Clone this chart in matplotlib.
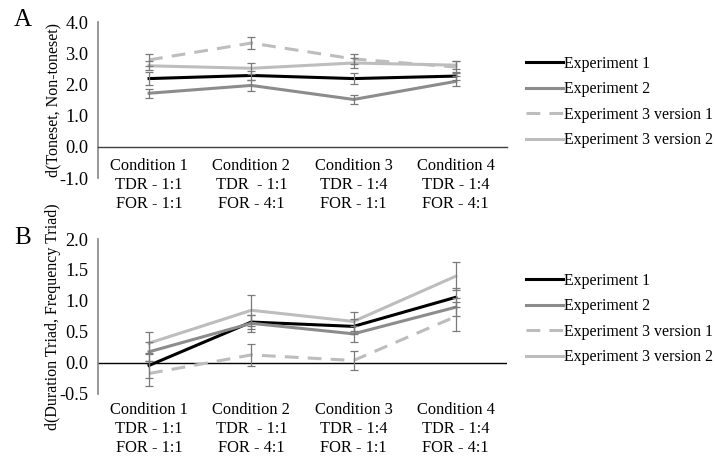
import matplotlib
matplotlib.use("Agg")
import matplotlib.pyplot as plt
import numpy as np

plt.rcParams['font.family'] = ['Liberation Serif', 'DejaVu Serif']
plt.rcParams['axes.unicode_minus'] = False

conditions = ["Condition 1\nTDR - 1:1\nFOR - 1:1",
              "Condition 2\nTDR  - 1:1\nFOR - 4:1",
              "Condition 3\nTDR - 1:4\nFOR - 1:1",
              "Condition 4\nTDR - 1:4\nFOR - 4:1"]
series_names = ["Experiment 1", "Experiment 2",
                "Experiment 3 version 1", "Experiment 3 version 2"]

# panel A: d(Toneset, Non-toneset)
exp1_a = [2.19, 2.29, 2.19, 2.27]
exp2_a = [1.72, 1.97, 1.52, 2.10]
exp3v1_a = [2.79, 3.33, 2.82, 2.56]
exp3v2_a = [2.60, 2.52, 2.69, 2.62]
err1_a = [0.20, 0.15, 0.17, 0.12]
err2_a = [0.15, 0.17, 0.15, 0.16]
err3v1_a = [0.20, 0.20, 0.15, 0.18]
err3v2_a = [0.15, 0.17, 0.15, 0.12]

# panel B: d(Duration Triad, Frequency Triad)
exp1_b = [-0.04, 0.66, 0.59, 1.06]
exp2_b = [0.18, 0.64, 0.47, 0.90]
exp3v1_b = [-0.17, 0.13, 0.04, 0.75]
exp3v2_b = [0.32, 0.85, 0.67, 1.40]
err1_b = [0.20, 0.12, 0.12, 0.15]
err2_b = [0.15, 0.14, 0.13, 0.15]
err3v1_b = [0.20, 0.18, 0.16, 0.23]
err3v2_b = [0.18, 0.25, 0.16, 0.23]

styles = [dict(color='black', ls='-'),
          dict(color='#8c8c8c', ls='-'),
          dict(color='#bdbdbd', ls=(0, (4.5, 3))),
          dict(color='#bdbdbd', ls='-')]

fs_tick = 13.2
fs_cat = 11.8
fs_leg = 11.4
fs_lab = 11.5
fig = plt.figure(figsize=(7.15, 4.57), dpi=100)
axA = fig.add_axes([0.137, 0.6105, 0.572, 0.341])
axB = fig.add_axes([0.137, 0.138, 0.572, 0.339])


def draw(ax, vals, errs, ylim, yticks, ylabel, legend_y, low_labels):
    x = np.arange(len(conditions))
    # spine position first: it resets the ticks
    for s in ['top', 'right']:
        ax.spines[s].set_visible(False)
    ax.spines['left'].set_color('#868686')
    ax.spines['left'].set_linewidth(1.2)
    if low_labels:
        ax.spines['bottom'].set_visible(False)
        ax.axhline(0, color='black', lw=1.0, zorder=1)
    else:
        ax.spines['bottom'].set_position(('data', 0))
        ax.spines['bottom'].set_color('#404040')
        ax.spines['bottom'].set_linewidth(1.0)
    for v, e, st, name in zip(vals, errs, styles, series_names):
        ax.errorbar(x, v, yerr=e, fmt='none', ecolor='#7a7a7a',
                    elinewidth=0.9, capsize=2.6, capthick=0.9, zorder=3)
        ax.plot(x, v, color=st['color'], ls=st['ls'], lw=2.2,
                label=name, zorder=2)
    ax.set_xlim(-0.5, 3.5)
    ax.set_ylim(*ylim)
    ax.set_yticks(yticks)
    ax.set_yticklabels(["%.1f" % t for t in yticks], fontsize=fs_tick)
    ax.set_xticks(x)
    ax.set_xticklabels(conditions, fontsize=fs_cat,
                       linespacing=1.22 if low_labels else 1.26)
    ax.tick_params(axis='both', length=0)
    ax.tick_params(axis='y', pad=7)
    ax.tick_params(axis='x', pad=6 if low_labels else 8)
    ax.set_ylabel(ylabel, fontsize=fs_lab)
    ax.yaxis.set_label_coords(-0.09, 0.5)
    ax.legend(loc='center left', bbox_to_anchor=(0.727, legend_y),
              bbox_transform=fig.transFigure, frameon=False, fontsize=fs_leg,
              handlelength=2.3, handletextpad=0.12, labelspacing=0.6,
              borderaxespad=0)


draw(axA, [exp1_a, exp2_a, exp3v1_a, exp3v2_a],
     [err1_a, err2_a, err3v1_a, err3v2_a],
     (-1.0, 4.0), [-1.0, 0.0, 1.0, 2.0, 3.0, 4.0],
     "d(Toneset, Non-toneset)", 1 - 102 / 457, False)
draw(axB, [exp1_b, exp2_b, exp3v1_b, exp3v2_b],
     [err1_b, err2_b, err3v1_b, err3v2_b],
     (-0.5, 2.0), [-0.5, 0.0, 0.5, 1.0, 1.5, 2.0],
     "d(Duration Triad, Frequency Triad)", 1 - 319 / 457, True)

fig.text(14 / 715, 1 - 20 / 457, "A", fontsize=18, va='center', ha='left')
fig.text(14 / 715, 1 - 238 / 457, "B", fontsize=18, va='center', ha='left')

fig.savefig("out.png", dpi=100)
